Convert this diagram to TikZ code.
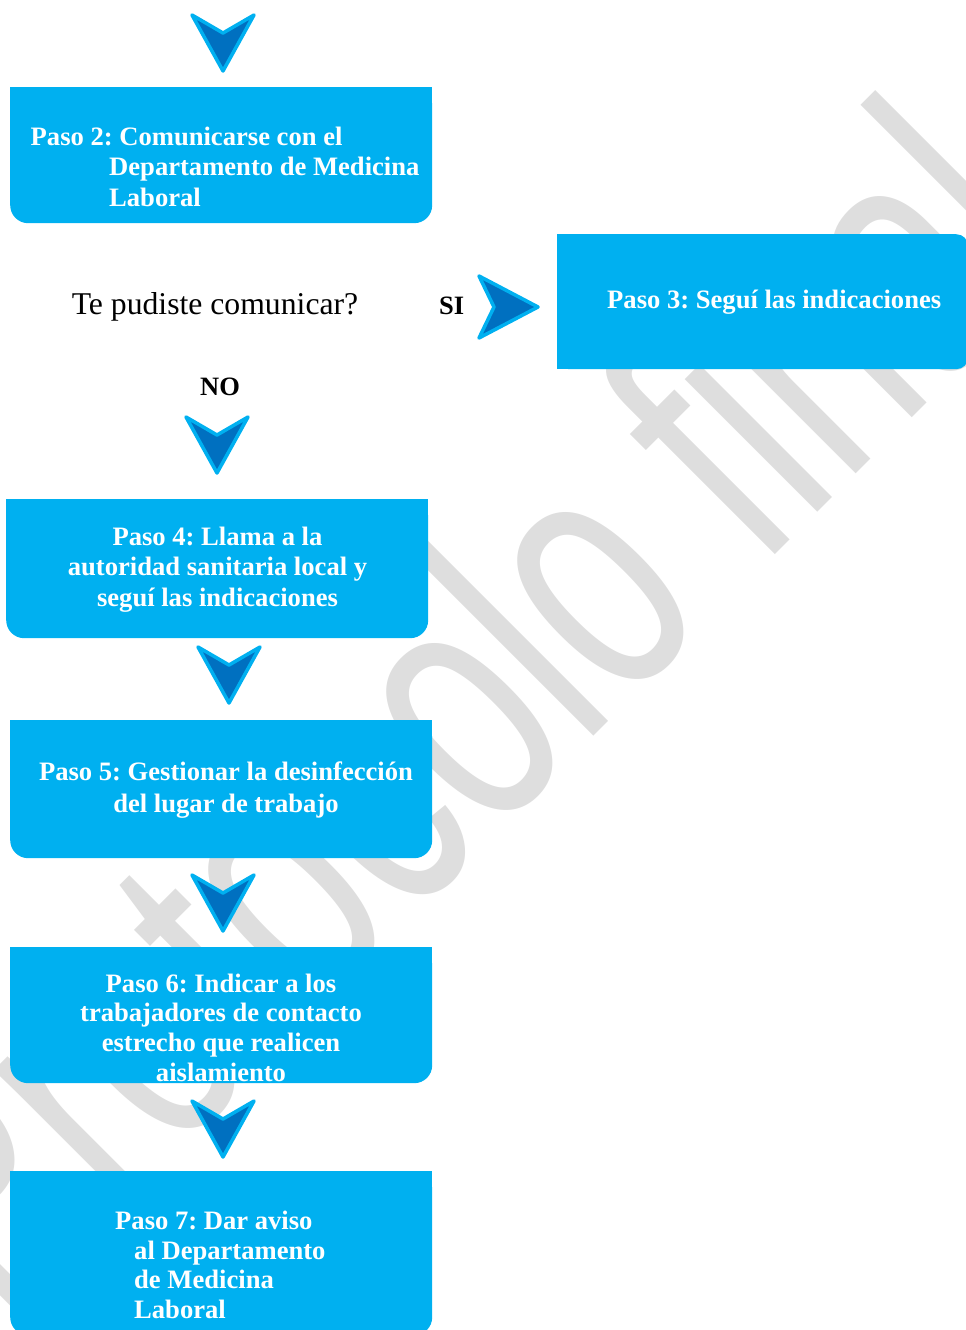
\documentclass[tikz,border=0pt]{standalone}
\usepackage{fontspec}
\usepackage{graphicx}
\setmainfont{Liberation Serif}
\newfontfamily\marcafont{Liberation Sans}
\usepackage{tikz}
\frenchspacing
\definecolor{celeste}{HTML}{00B0F0}
\definecolor{azul}{HTML}{0070C0}
\definecolor{gris}{HTML}{DEDEDE}
\tikzset{
  paso/.style={fill=celeste, rounded corners=18pt, inner sep=0pt, anchor=north west},
  rotulo/.style={text=white, font=\bfseries\fontsize{26.6}{30.5}\selectfont, inner sep=0pt, anchor=base},
  pregunta/.style={font=\fontsize{31.7}{34}\selectfont, inner sep=0pt, anchor=base},
  respuesta/.style={font=\bfseries\fontsize{26.5}{30}\selectfont, inner sep=0pt, anchor=base},
  marca/.style={text=gris, font=\marcafont\fontsize{355}{355}\selectfont, rotate=45, anchor=base west, inner sep=0pt},
  flechaabajo/.pic={\filldraw[fill=azul, draw=celeste, line width=3.5pt, line join=round] (-31,2) -- (0,20) -- (31,2) -- (0,58) -- cycle;},
  flechader/.pic={\filldraw[fill=azul, draw=celeste, line width=3.5pt, line join=round] (2,-31) -- (17,0) -- (2,31) -- (61,0) -- cycle;}
}
\begin{document}
\begin{tikzpicture}[x=1pt,y=-1pt]
\useasboundingbox (0,0) rectangle (966,1330);
\clip (0,0) rectangle (966,1330);
\node(marca)[marca] at (3,1327) {\scalebox{0.67}[1]{Protocolo final}};

\node(p2)[paso, minimum width=422pt, minimum height=136pt] at (10,87) {};
\node(p3)[paso, rounded corners=12pt, minimum width=411pt, minimum height=135pt] at (557,234) {};
\node(p4)[paso, minimum width=422pt, minimum height=139pt] at (6,499) {};
\node(p5)[paso, minimum width=422pt, minimum height=138pt] at (10,720) {};
\node(p6)[paso, minimum width=422pt, minimum height=136pt] at (10,947) {};
\node(p7)[paso, minimum width=422pt, minimum height=164pt] at (10,1171) {};
\foreach \p in {p2,p4,p5,p6,p7}
  \fill[celeste] (\p.north west) rectangle (\p.east);
\fill[celeste] (p3.north west) rectangle (p3.south);

\node(t2)[rotulo, anchor=base west, align=left] at (30.5,206) {Paso 2: Comunicarse con el\\\hspace*{78.5pt}Departamento de Medicina\\\hspace*{78.5pt}Laboral};
\node(t3)[rotulo, anchor=base west] at (607,308) {Paso 3: Seguí las indicaciones};
\node(t4)[rotulo, align=center] at (217.5,606) {Paso 4: Llama a la\\autoridad sanitaria local y\\seguí las indicaciones};
\node(t5)[rotulo, align=center, font=\bfseries\fontsize{26.6}{31.5}\selectfont] at (226,812) {Paso 5: Gestionar la desinfección\\del lugar de trabajo};
\node(t6)[rotulo, align=center, font=\bfseries\fontsize{26.6}{29.6}\selectfont] at (221,1081) {Paso 6: Indicar a los\\trabajadores de contacto\\estrecho que realicen\\aislamiento};
\node(t7)[rotulo, anchor=base west, align=left, font=\bfseries\fontsize{26.6}{29.4}\selectfont] at (115,1318) {Paso 7: Dar aviso\\\hspace*{19pt}al Departamento\\\hspace*{19pt}de Medicina\\\hspace*{19pt}Laboral};

\node(preg)[pregunta] at (215,314) {Te pudiste comunicar?};
\node(si)[respuesta, anchor=base west] at (439,314) {SI};
\node(no)[respuesta] at (220,395) {NO};

\pic at (223,13) {flechaabajo};
\pic at (477,307) {flechader};
\pic at (217,415) {flechaabajo};
\pic at (229,645) {flechaabajo};
\pic at (223,873) {flechaabajo};
\pic at (223,1099) {flechaabajo};
\end{tikzpicture}
\end{document}
